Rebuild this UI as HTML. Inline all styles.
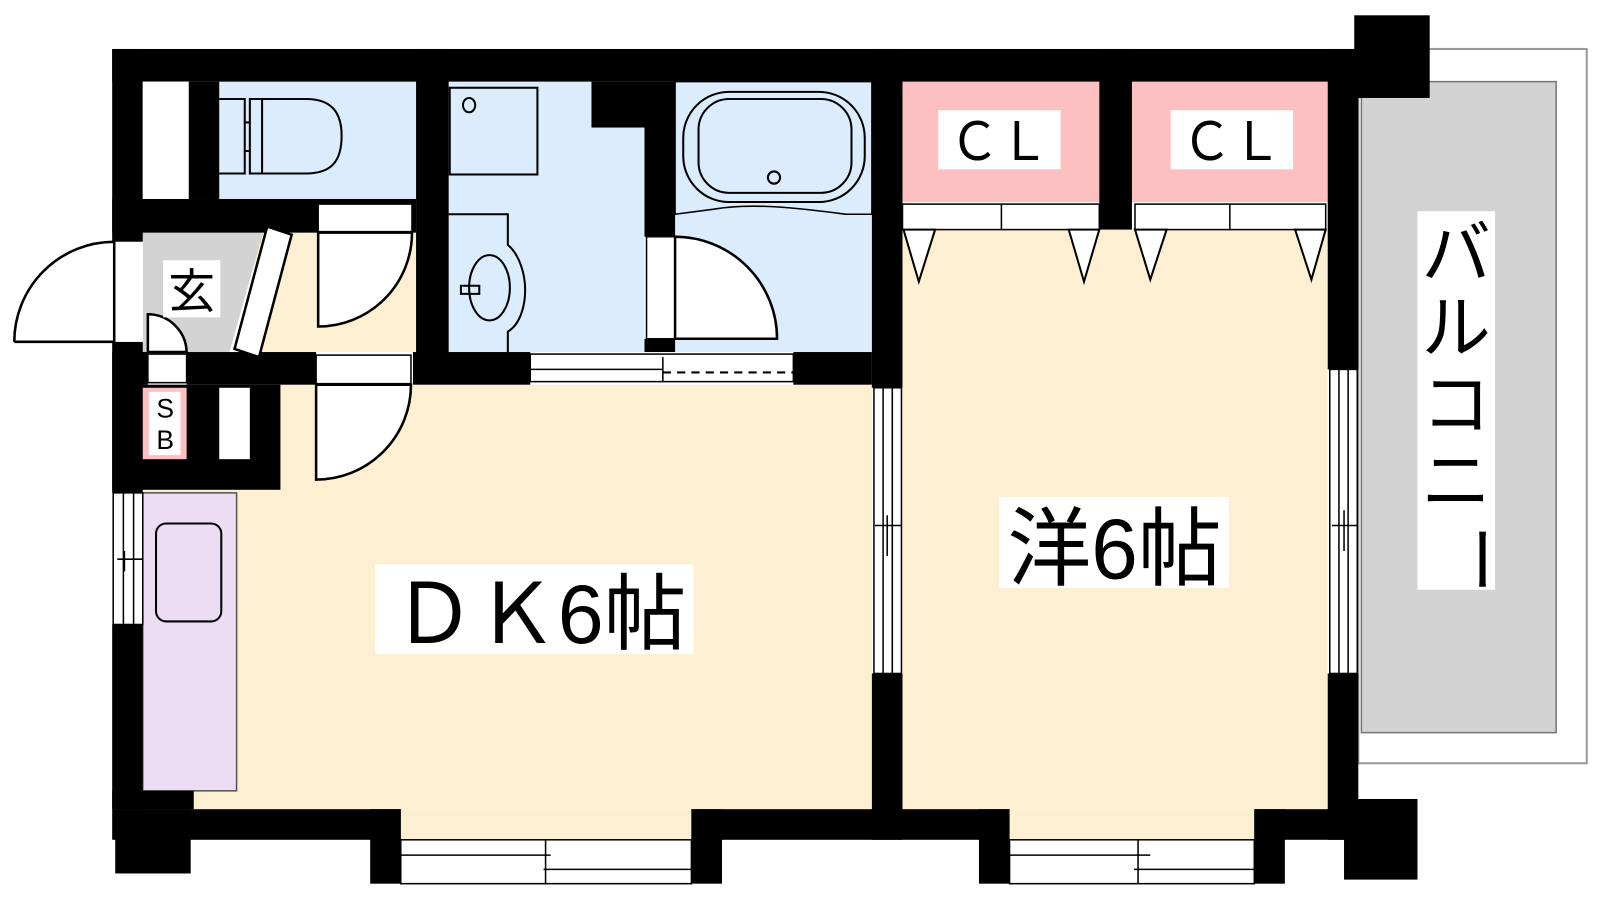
<!DOCTYPE html>
<html><head><meta charset="utf-8"><style>html,body{margin:0;padding:0;background:#fff}svg{display:block}text{font-family:"Liberation Sans","Noto Sans CJK JP",sans-serif}</style></head>
<body>
<svg width="1600" height="900" viewBox="0 0 1569 882" preserveAspectRatio="none" xmlns="http://www.w3.org/2000/svg">
<rect width="1600" height="900" fill="#fff"/>
<rect x="1332" y="48" width="224" height="700" fill="#fff" stroke="#999" stroke-width="2"/>
<rect x="1335" y="80" width="191" height="638" fill="#d3d3d3" stroke="#777" stroke-width="1.5"/>
<rect x="215" y="80" width="193" height="115" fill="#dbecfd"/>
<path d="M440 80H580V125H632V345H440Z" fill="#dbecfd"/>
<rect x="662" y="80" width="193" height="265" fill="#dbecfd"/>
<rect x="885" y="80" width="193" height="118" fill="#fdc0c0"/>
<rect x="1110" y="80" width="192" height="118" fill="#fdc0c0"/>
<rect x="885" y="225" width="417" height="568" fill="#fdf0d2"/>
<rect x="188" y="377" width="667" height="416" fill="#fdf0d2"/>
<rect x="140" y="480" width="50" height="313" fill="#fdf0d2"/>
<rect x="393" y="793" width="285" height="30" fill="#fdf0d2"/>
<rect x="990" y="793" width="240" height="30" fill="#fdf0d2"/>
<rect x="250" y="228" width="158" height="117" fill="#fdf0d2"/>
<path d="M140 228H258L225 345H140Z" fill="#d3d3d3"/>
<rect x="140" y="483" width="92" height="292" fill="#ecdcf4" stroke="#555" stroke-width="1.5"/>
<g fill="#000">
<rect x="110" y="48" width="1220" height="32"/>
<rect x="1328" y="15" width="74" height="81"/>
<rect x="110" y="48" width="30" height="189"/>
<rect x="110" y="335" width="30" height="148"/>
<rect x="110" y="612" width="30" height="181"/>
<rect x="185" y="80" width="30" height="115"/>
<rect x="110" y="195" width="298" height="33"/>
<rect x="408" y="48" width="32" height="327"/>
<rect x="580" y="80" width="52" height="45"/>
<rect x="632" y="80" width="30" height="152"/>
<rect x="632" y="332" width="30" height="13"/>
<rect x="855" y="48" width="30" height="332"/>
<rect x="855" y="660" width="30" height="163"/>
<rect x="1078" y="48" width="32" height="177"/>
<rect x="1302" y="48" width="30" height="314"/>
<rect x="1302" y="660" width="30" height="163"/>
<rect x="110" y="345" width="35" height="32"/>
<rect x="183" y="345" width="127" height="32"/>
<rect x="405" y="345" width="115" height="32"/>
<rect x="778" y="345" width="77" height="32"/>
<rect x="110" y="377" width="165" height="103"/>
<rect x="110" y="775" width="80" height="18"/>
<rect x="110" y="793" width="283" height="30"/>
<rect x="363" y="793" width="30" height="73"/>
<rect x="678" y="793" width="312" height="30"/>
<rect x="678" y="793" width="30" height="73"/>
<rect x="960" y="793" width="30" height="73"/>
<rect x="1230" y="793" width="100" height="30"/>
<rect x="1230" y="793" width="30" height="73"/>
<rect x="1318" y="783" width="72" height="79"/>
<rect x="113" y="793" width="74" height="63"/>
</g>
<rect x="140" y="80" width="45" height="115" fill="#fff"/>
<rect x="140" y="380" width="43" height="70" fill="#fdc0c0"/>
<rect x="146" y="384" width="31" height="62" fill="#fff"/>
<text x="162" y="409" font-size="26" text-anchor="middle">S</text>
<text x="162" y="440" font-size="26" text-anchor="middle">B</text>
<rect x="215" y="380" width="30" height="70" fill="#fff"/>
<g fill="none" stroke="#000" stroke-width="2.5">
<rect x="112" y="237" width="28" height="98" fill="#fff" stroke="none"/>
<path d="M14 335H112V237A98 98 0 0 0 14 335" fill="#fff"/>
<path d="M112 237V335" stroke-width="1.5"/>
<path d="M145 308A38 38 0 0 1 183 345H145Z" fill="#fff"/>
<rect x="145" y="347" width="38" height="28" fill="#fff" stroke-width="1.5"/>
<path d="M262 222L286 230L254 350L230 342Z" fill="#fff"/>
<rect x="312" y="200" width="92" height="27" fill="#fff" stroke-width="1.5"/>
<path d="M312 228V320A92 92 0 0 0 404 228Z" fill="#fff"/>
<rect x="310" y="348" width="93" height="28" fill="#fff" stroke-width="1.5"/>
<path d="M310 377V470A93 93 0 0 0 403 377Z" fill="#fff"/>
<rect x="634" y="232" width="28" height="100" fill="#fff" stroke-width="1.5"/>
<path d="M662 232A100 100 0 0 1 762 332H662Z" fill="#fff"/>
<rect x="520" y="347" width="258" height="27" fill="#fff" stroke-width="1.5"/>
<path d="M520 362H650M650 350V374" stroke-width="1.5"/>
<path d="M650 365H778" stroke-dasharray="8 6" stroke-width="2"/>
<path d="M215 97H240V170H215" stroke-width="2"/>
<path d="M245 97H300C325 97 335 110 335 133C335 158 325 170 300 170H245Z M257 97V170 M240 120H245 M240 148H245" stroke-width="2"/>
<rect x="441" y="86" width="86" height="85" stroke-width="2"/>
<ellipse cx="460" cy="103" rx="6" ry="7" stroke-width="2"/>
<path d="M440 210H498V240C510 250 515 270 515 284C515 300 510 318 498 325V345" stroke-width="2"/>
<ellipse cx="480" cy="282" rx="20" ry="32" stroke-width="2"/>
<path d="M452 280H470V288H452Z" stroke-width="2"/>
<path d="M662 210V80H855V210H830C790 205 740 198 700 205L662 210" stroke-width="1.5"/>
<rect x="670" y="90" width="178" height="108" rx="45" stroke-width="2"/>
<rect x="685" y="97" width="150" height="92" rx="30" stroke-width="2"/>
<circle cx="759" cy="174" r="6" stroke-width="2"/>
<rect x="885" y="200" width="193" height="25" fill="#fff" stroke-width="1.5"/>
<path d="M982 200V225" stroke-width="1.5"/>
<rect x="1113" y="200" width="187" height="25" fill="#fff" stroke-width="1.5"/>
<path d="M1206 200V225" stroke-width="1.5"/>
<path d="M886 225L901 276L917 225Z M1048 225L1063 276L1078 225Z M1113 225L1128 274L1144 225Z M1270 225L1286 274L1300 225Z" fill="#fff" stroke-width="2"/>
<rect x="153" y="513" width="64" height="96" rx="10" stroke-width="2"/>
<rect x="111" y="483" width="29" height="129" fill="#fff" stroke-width="1.5"/>
<path d="M121 483V612M131 483V612M115 548H140M122 540V560" stroke-width="1.5"/>
<rect x="857" y="380" width="27" height="280" fill="#fff" stroke-width="1.5"/>
<path d="M866 380V660M875 380V660M858 515H884M870 505V545" stroke-width="1.5"/>
<rect x="1304" y="362" width="27" height="298" fill="#fff" stroke-width="1.5"/>
<path d="M1313 362V660M1322 362V660M1306 515H1331M1318 500V540" stroke-width="1.5"/>
<rect x="393" y="823" width="285" height="43" fill="#fff" stroke-width="1.5"/>
<path d="M393 838H540M533 852H678M535 823V866" stroke-width="1.5"/>
<rect x="990" y="823" width="240" height="43" fill="#fff" stroke-width="1.5"/>
<path d="M990 838H1128M1112 852H1230M1116 823V866" stroke-width="1.5"/>
</g>
<rect x="160" y="255" width="56" height="56" fill="#fff"/>
<text x="188" y="302" font-size="46" text-anchor="middle">玄</text>
<rect x="920" y="108" width="120" height="58" fill="#fff"/>
<text x="980" y="157" font-size="52" text-anchor="middle" textLength="98" lengthAdjust="spacingAndGlyphs">ＣＬ</text>
<rect x="1148" y="108" width="120" height="58" fill="#fff"/>
<text x="1208" y="157" font-size="52" text-anchor="middle" textLength="98" lengthAdjust="spacingAndGlyphs">ＣＬ</text>
<rect x="368" y="553" width="312" height="88" fill="#fff"/>
<text x="385" y="630" font-size="82" textLength="288" lengthAdjust="spacingAndGlyphs">ＤＫ6帖</text>
<rect x="980" y="487" width="225" height="89" fill="#fff"/>
<text x="988" y="567" font-size="84" textLength="210" lengthAdjust="spacingAndGlyphs">洋6帖</text>
<rect x="1390" y="207" width="76" height="371" fill="#fff"/>
<g font-size="68" text-anchor="middle">
<text x="1428" y="272">バ</text>
<text x="1428" y="345">ル</text>
<text x="1428" y="420">コ</text>
<text x="1428" y="495">ニ</text>
<text x="1428" y="548" transform="rotate(90 1428 548)">ー</text>
</g>
</svg>
</body></html>
